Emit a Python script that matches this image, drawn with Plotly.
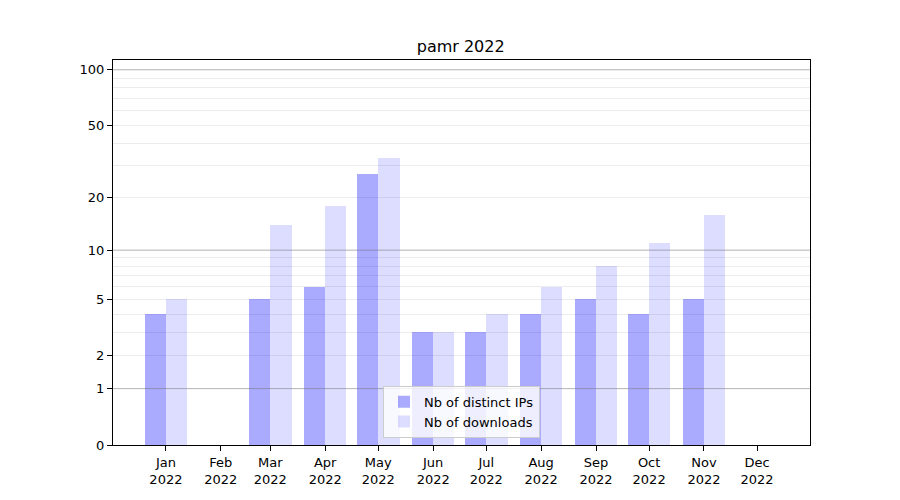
import numpy as np
import pandas as pd
import plotly.graph_objects as go

months = ["2022-01-01", "2022-02-01", "2022-03-01", "2022-04-01", "2022-05-01", "2022-06-01",
          "2022-07-01", "2022-08-01", "2022-09-01", "2022-10-01", "2022-11-01", "2022-12-01"]
month_labels = ["Jan<br>2022", "Feb<br>2022", "Mar<br>2022", "Apr<br>2022", "May<br>2022", "Jun<br>2022",
                "Jul<br>2022", "Aug<br>2022", "Sep<br>2022", "Oct<br>2022", "Nov<br>2022", "Dec<br>2022"]
distinct_ips = [4, 0, 5, 6, 27, 3, 3, 4, 5, 4, 5, 0]
downloads = [5, 0, 14, 18, 33, 3, 4, 6, 8, 11, 16, 0]

ytick_values = [0, 1, 2, 5, 10, 20, 50, 100]
minor_grid_values = [3, 4, 6, 7, 8, 9, 30, 40, 60, 70, 80, 90]
major_grid_values = [1, 10, 100]
y_top_value = 113


def tr(v):
    return np.log10(1 + np.asarray(v, dtype=float))


DAY = 86400000
bar_w = 12 * DAY

fig = go.Figure()
fig.add_trace(go.Bar(
    x=pd.to_datetime(months), y=tr(distinct_ips), name="Nb of distinct IPs",
    width=bar_w, offset=-bar_w, marker=dict(color="rgba(0,0,255,0.333)", line=dict(width=0)),
))
fig.add_trace(go.Bar(
    x=pd.to_datetime(months), y=tr(downloads), name="Nb of downloads",
    width=bar_w, offset=0, marker=dict(color="rgba(0,0,255,0.133)", line=dict(width=0)),
))

for v in major_grid_values:
    fig.add_shape(type="line", xref="paper", x0=0, x1=1, yref="y", y0=float(tr(v)), y1=float(tr(v)),
                  line=dict(color="rgba(128,128,128,0.5)", width=1), layer="above")

font = "DejaVu Sans, Liberation Sans, sans-serif"
start = pd.Timestamp(months[0])
fig.update_layout(
    width=900, height=500,
    margin=dict(l=105, r=98, t=52, b=63),
    plot_bgcolor="white", paper_bgcolor="white",
    barmode="overlay", bargap=0,
    font=dict(family=font, size=13, color="black"),
    title=dict(text="pamr 2022", x=0.503, xanchor="center", y=0.924, yanchor="middle",
               font=dict(size=16, family=font, color="black")),
    showlegend=True,
    legend=dict(x=0.5, xanchor="center", y=0.019, yanchor="bottom",
                bgcolor="rgba(255,255,255,0.8)", bordercolor="#cccccc", borderwidth=1,
                font=dict(size=13, family=font), tracegroupgap=0),
    xaxis=dict(
        type="date",
        range=[start - pd.Timedelta(days=29.9), start + pd.Timedelta(days=363.9)],
        tickmode="array", tickvals=pd.to_datetime(months), ticktext=month_labels,
        ticks="outside", ticklen=5, tickcolor="black", tickwidth=1,
        showgrid=False, showline=True, linecolor="black", linewidth=1, mirror=True,
        zeroline=False, tickfont=dict(size=13),
    ),
    yaxis=dict(
        range=[0, float(tr(y_top_value))],
        tickmode="array", tickvals=tr(ytick_values), ticktext=[str(v) for v in ytick_values],
        ticks="outside", ticklen=5, tickcolor="black", tickwidth=1,
        showgrid=True, gridcolor="#ececec", gridwidth=1,
        minor=dict(tickmode="array", tickvals=tr(minor_grid_values), showgrid=True,
                   gridcolor="#ececec", gridwidth=1, ticks=""),
        showline=True, linecolor="black", linewidth=1, mirror=True,
        zeroline=False, tickfont=dict(size=13),
    ),
)

fig.write_html("out.html")
